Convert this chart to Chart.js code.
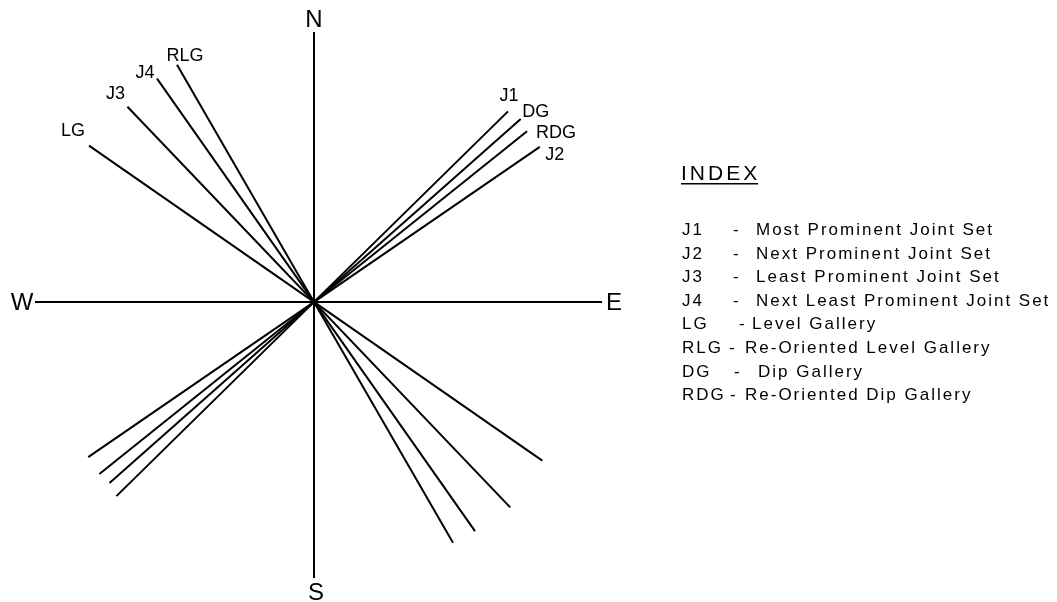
<!DOCTYPE html>
<html>
<head>
<meta charset="utf-8">
<script src="https://cdn.jsdelivr.net/npm/chart.js@4.4.0/dist/chart.umd.min.js"></script>
<style>
  body { margin: 0; background: #fff; }
</style>
</head>
<body>
<canvas id="myCanvas" width="1057" height="602"></canvas>
<script>
// strike of each set, degrees clockwise from north
const sets = ["J1", "J2", "J3", "J4", "LG", "RLG", "DG", "RDG"];
const strikes = [45.5, 55.5, 316.3, 324.9, 304.8, 330, 48.5, 51.3];
// drawn length of each line on its north side and on its south side
const northLen = [272, 274, 270, 273, 274, 274, 276, 273];
const southLen = [277, 274, 284, 280, 278, 278, 273, 275];

// compass arms
const compass = ["N", "E", "S", "W"];
const compassAz = [0, 90, 180, 270];
const compassLen = [270, 288, 276, 279];

// index
const indexCodes = ["J1", "J2", "J3", "J4", "LG", "RLG", "DG", "RDG"];
const indexText = [
  "Most Prominent Joint Set",
  "Next Prominent Joint Set",
  "Least Prominent Joint Set",
  "Next Least Prominent Joint Set",
  "Level Gallery",
  "Re-Oriented Level Gallery",
  "Dip Gallery",
  "Re-Oriented Dip Gallery",
];

const FONT = '"Liberation Sans", Arial, sans-serif';

const toXY = (az, r) => {
  const a = (az * Math.PI) / 180;
  return { x: r * Math.sin(a), y: r * Math.cos(a) };
};

const lineStyle = {
  showLine: true,
  borderColor: "#000",
  borderWidth: 2,
  pointRadius: 0,
  pointHoverRadius: 0,
  fill: false,
  clip: false,
};

const datasets = [];
// N-S and E-W arms
datasets.push({ ...lineStyle, label: "NS", data: [toXY(compassAz[0], compassLen[0]), toXY(compassAz[2], compassLen[2])] });
datasets.push({ ...lineStyle, label: "EW", data: [toXY(compassAz[3], compassLen[3]), toXY(compassAz[1], compassLen[1])] });
sets.forEach((s, i) => {
  datasets.push({
    ...lineStyle,
    label: s,
    data: [toXY(strikes[i], northLen[i]), toXY(strikes[i] + 180, southLen[i])],
  });
});

// where each label sits relative to the north end of its line (px)
const labelOffsets = {
  J1: [1, -15], J2: [15, 8], J3: [-12, -13], J4: [-12, -6],
  LG: [-16, -15], RLG: [8, -9], DG: [15, -7], RDG: [29, 2],
};
const compassOffsets = { N: [0, -12], E: [12, 1], S: [2, 15], W: [-13, 1] };
// x of the dash and of the description in each index row
const dashX = [733, 733, 733, 733, 739, 729, 734, 730];
const descX = [756, 756, 756, 756, 752, 745, 758, 745];

const labelsPlugin = {
  id: "labels",
  afterDraw(chart) {
    const { ctx, scales } = chart;
    const px = (p) => [scales.x.getPixelForValue(p.x), scales.y.getPixelForValue(p.y)];
    ctx.save();
    ctx.fillStyle = "#000";
    ctx.textAlign = "center";
    ctx.textBaseline = "middle";

    ctx.font = "24px " + FONT;
    compass.forEach((c, i) => {
      const [x, y] = px(toXY(compassAz[i], compassLen[i]));
      const o = compassOffsets[c];
      ctx.fillText(c, x + o[0], y + o[1]);
    });

    ctx.font = "18px " + FONT;
    sets.forEach((s, i) => {
      const [x, y] = px(toXY(strikes[i], northLen[i]));
      const o = labelOffsets[s];
      ctx.fillText(s, x + o[0], y + o[1]);
    });

    // index block
    ctx.textAlign = "left";
    ctx.textBaseline = "alphabetic";
    ctx.font = "21px " + FONT;
    ctx.letterSpacing = "3px";
    const title = "INDEX";
    ctx.fillText(title, 681, 180);
    const tw = ctx.measureText(title).width - 2;
    ctx.fillRect(681, 183, tw, 1.5);

    ctx.font = "17px " + FONT;
    ctx.letterSpacing = "2px";
    indexCodes.forEach((c, i) => {
      const y = 235 + i * 23.6;
      ctx.fillText(c, 682, y);
      ctx.fillText("-", dashX[i], y);
      ctx.fillText(indexText[i], descX[i], y);
    });
    ctx.restore();
  },
};

const canvas = document.getElementById("myCanvas");
const ctx = canvas.getContext("2d");

new Chart(ctx, {
  type: "scatter",
  data: { datasets },
  options: {
    responsive: false,
    animation: false,
    devicePixelRatio: 1,
    layout: { padding: 0 },
    plugins: { legend: { display: false }, tooltip: { enabled: false } },
    scales: {
      x: { display: false, min: -314, max: 743 },
      y: { display: false, min: -300, max: 302 },
    },
  },
  plugins: [labelsPlugin],
});
</script>
</body>
</html>
